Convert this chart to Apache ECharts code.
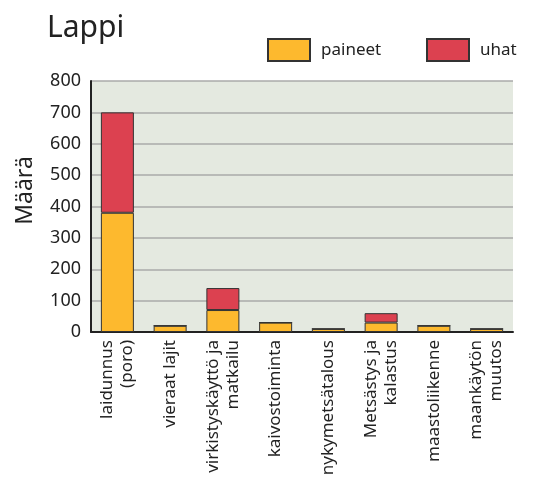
<!DOCTYPE html>
<html>
<head>
<meta charset="utf-8">
<script src="https://cdn.jsdelivr.net/npm/echarts@6/dist/echarts.min.js"></script>
<style>
  html, body { margin: 0; padding: 0; background: #fff; }
  #chart { width: 541px; height: 484px; }
</style>
</head>
<body>
<div id="chart"></div>
<script>
// Lappi: paineet ja uhat
var categories = [
    'laidunnus\n(poro)',
    'vieraat lajit',
    'virkistyskäyttö ja\nmatkailu',
    'kaivostoiminta',
    'nykymetsätalous',
    'Metsästys ja\nkalastus',
    'maastoliikenne',
    'maankäytön\nmuutos'
];
var paineet = [380, 20, 70, 30, 10, 30, 20, 10];
var uhat = [320, 0, 70, 0, 0, 30, 0, 0];
var yTicks = [0, 800, 100]; // min, max, interval

var font = '"Noto Sans", "Open Sans", sans-serif';
var chart = echarts.init(document.getElementById('chart'));

chart.setOption({
    animation: false,
    textStyle: {fontFamily: font},
    title: {
        text: 'Lappi',
        left: 42,
        top: 8,
        textStyle: {fontSize: 30, fontWeight: 'normal', color: '#222', fontFamily: font}
    },
    legend: [{
        data: ['paineet'],
        icon: 'rect',
        left: 262,
        top: 33,
        itemWidth: 42,
        itemHeight: 22,
        textStyle: {fontSize: 17, color: '#222', padding: [0, 0, 0, 6]}
    }, {
        data: ['uhat'],
        icon: 'rect',
        left: 421,
        top: 33,
        itemWidth: 42,
        itemHeight: 22,
        textStyle: {fontSize: 17, color: '#222', padding: [0, 0, 0, 6]}
    }],
    grid: {
        left: 91,
        right: 28,
        top: 81,
        bottom: 152,
        show: true,
        backgroundColor: '#e4e9e0',
        borderWidth: 0
    },
    xAxis: {
        type: 'category',
        data: categories,
        axisLine: {lineStyle: {color: '#222', width: 2}},
        axisTick: {show: false},
        axisLabel: {
            rotate: 90,
            fontSize: 17,
            lineHeight: 20,
            color: '#222',
            margin: 8,
            interval: 0
        }
    },
    yAxis: {
        type: 'value',
        min: yTicks[0],
        max: yTicks[1],
        interval: yTicks[2],
        name: 'Määrä',
        nameLocation: 'middle',
        nameGap: 54,
        nameTextStyle: {fontSize: 23, color: '#222', padding: [0, 0, 0, 32]},
        axisLine: {show: true, lineStyle: {color: '#222', width: 2}},
        axisTick: {show: false},
        axisLabel: {fontSize: 18, color: '#222', margin: 10},
        splitLine: {lineStyle: {color: '#aaaaaa', width: 1.5}}
    },
    series: [{
        name: 'paineet',
        type: 'bar',
        stack: 'total',
        barWidth: 33,
        data: paineet,
        itemStyle: {color: '#fdb92e', borderColor: '#333', borderWidth: 1}
    }, {
        name: 'uhat',
        type: 'bar',
        stack: 'total',
        barWidth: 33,
        data: uhat,
        itemStyle: {color: '#dc4150', borderColor: '#333', borderWidth: 1}
    }]
});
</script>
</body>
</html>
